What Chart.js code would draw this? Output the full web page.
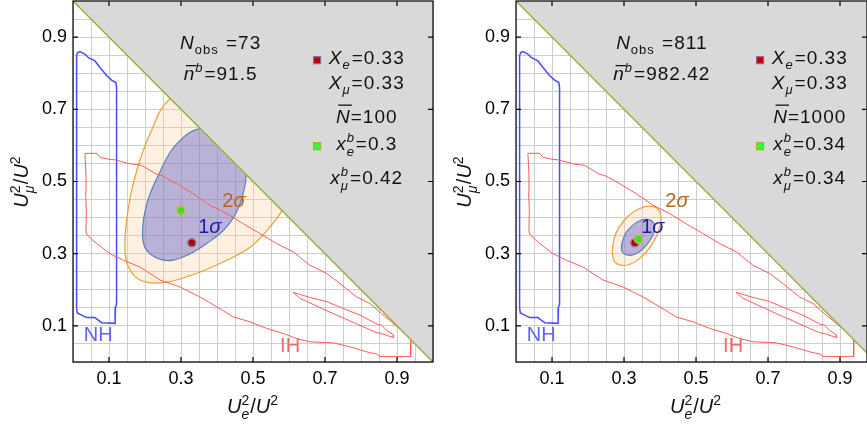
<!DOCTYPE html>
<html>
<head>
<meta charset="utf-8">
<script src="https://cdn.jsdelivr.net/npm/chart.js"></script>
<style>
  html, body { margin: 0; padding: 0; background: #fff; }
  body { width: 867px; height: 426px; position: relative; overflow: hidden; }
  .panel { position: absolute; top: 0; height: 426px; }
  #left { left: 0; width: 440px; }
  #right { left: 440px; width: 427px; }
</style>
</head>
<body>
<div class="panel" id="left"><canvas id="chartLeft" width="440" height="426"></canvas></div>
<div class="panel" id="right"><canvas id="chartRight" width="427" height="426"></canvas></div>
<script>
// values per panel: [left, right]
const tickLabels = ["0.1", "0.3", "0.5", "0.7", "0.9"];
const nObs = [73, 811];
const nBarB = [91.5, 982.42];
const nBarTotal = [100, 1000];
const trueXe = [0.33, 0.33];
const trueXmu = [0.33, 0.33];
const fitXe = [0.3, 0.34];
const fitXmu = [0.42, 0.34];
const xMax = [1, 0.975];

// x_e + x_mu <= 1
const boundary = [[0, 1], [1, 0]];

// normal hierarchy region
const nhContour = [
    [0.01, 0.15], [0.01, 0.848], [0.013, 0.857], [0.019, 0.86], [0.033, 0.853], [0.043, 0.843],
    [0.061, 0.834], [0.075, 0.816], [0.094, 0.793], [0.107, 0.781], [0.119, 0.774], [0.121, 0.76],
    [0.121, 0.16], [0.118, 0.152], [0.117, 0.107], [0.08, 0.109], [0.07, 0.116], [0.061, 0.123],
    [0.038, 0.123], [0.024, 0.13], [0.012, 0.136], [0.01, 0.15]
];

// inverted hierarchy region
const ihOuter = [
    [0.033, 0.578], [0.066, 0.578], [0.075, 0.567], [0.103, 0.561], [0.117, 0.56], [0.158, 0.549],
    [0.19, 0.545], [0.23, 0.521], [0.25, 0.515], [0.288, 0.494], [0.334, 0.466], [0.381, 0.434],
    [0.427, 0.411], [0.473, 0.383], [0.519, 0.356], [0.566, 0.328], [0.612, 0.305], [0.658, 0.268],
    [0.705, 0.245], [0.742, 0.217], [0.788, 0.18], [0.825, 0.162], [0.857, 0.134], [0.899, 0.099],
    [0.927, 0.079], [0.938, 0.065], [0.938, 0.015], [0.853, 0.015], [0.844, 0.022], [0.816, 0.028],
    [0.769, 0.042], [0.723, 0.053], [0.658, 0.056], [0.621, 0.065], [0.584, 0.079], [0.538, 0.093],
    [0.492, 0.111], [0.445, 0.125], [0.399, 0.153], [0.353, 0.18], [0.297, 0.208], [0.242, 0.227],
    [0.186, 0.263], [0.14, 0.282], [0.103, 0.3], [0.066, 0.328], [0.04, 0.351], [0.036, 0.36],
    [0.037, 0.42], [0.035, 0.47], [0.036, 0.52], [0.033, 0.578]
];
const ihInner = [
    [0.611, 0.193], [0.631, 0.187], [0.658, 0.179], [0.705, 0.167], [0.751, 0.148], [0.797, 0.13],
    [0.844, 0.105], [0.857, 0.102], [0.871, 0.088], [0.89, 0.075], [0.89, 0.068], [0.876, 0.072],
    [0.857, 0.079], [0.844, 0.081], [0.816, 0.093], [0.769, 0.114], [0.723, 0.134], [0.677, 0.155],
    [0.631, 0.176], [0.617, 0.188], [0.611, 0.193]
];

// confidence regions
const sigma1 = [
    [[0.44, 0.62], [0.36, 0.648], [0.288, 0.604], [0.237, 0.517], [0.205, 0.438], [0.193, 0.356],
     [0.205, 0.309], [0.251, 0.282], [0.306, 0.291], [0.371, 0.328], [0.427, 0.374], [0.464, 0.438],
     [0.482, 0.525], [0.475, 0.59], [0.44, 0.62]],
    [[0.294, 0.329], [0.306, 0.359], [0.331, 0.384], [0.358, 0.395], [0.381, 0.387], [0.383, 0.359],
     [0.364, 0.326], [0.336, 0.301], [0.311, 0.296], [0.294, 0.307], [0.294, 0.329]]
];
const sigma2 = [
    [[0.33, 0.735], [0.268, 0.728], [0.214, 0.632], [0.177, 0.53], [0.154, 0.429], [0.144, 0.318],
     [0.154, 0.263], [0.186, 0.227], [0.242, 0.219], [0.316, 0.236], [0.408, 0.273], [0.492, 0.318],
     [0.547, 0.374], [0.585, 0.43], [0.6, 0.52], [0.55, 0.64], [0.45, 0.71], [0.33, 0.735]],
    [[0.267, 0.304], [0.275, 0.351], [0.3, 0.392], [0.339, 0.423], [0.378, 0.431], [0.4, 0.414],
     [0.4, 0.376], [0.378, 0.326], [0.344, 0.287], [0.306, 0.268], [0.275, 0.276], [0.267, 0.304]]
];

const FAMILY = '"Liberation Sans", Arial, sans-serif';

function fnt(size, it) {
    return (it ? "italic " : "") + size + "px " + FAMILY;
}

// text with sub/superscripts; y is the middle of the main glyphs
function rich(ctx, parts, x, y, size, color, align, spacing) {
    const small = Math.round(size * 0.7);
    ctx.letterSpacing = (spacing || 0) + "px";
    const items = parts.map((p) => {
        if (typeof p === "string") p = { t: p };
        let w;
        if (p.t !== undefined) {
            ctx.font = fnt(size, p.it);
            w = ctx.measureText(p.t).width;
        } else {
            ctx.font = fnt(small, p.it);
            w = Math.max(p.sub ? ctx.measureText(p.sub).width : 0, p.sup ? ctx.measureText(p.sup).width : 0) + 1;
        }
        return Object.assign({}, p, { w });
    });
    const total = items.reduce((s, p) => s + p.w, 0);
    let cx = align === "left" ? x : x - total / 2;
    const base = y + size * 0.36;
    ctx.fillStyle = color;
    ctx.strokeStyle = color;
    ctx.textAlign = "left";
    ctx.textBaseline = "alphabetic";
    items.forEach((p) => {
        if (p.t !== undefined) {
            ctx.font = fnt(size, p.it);
            ctx.fillText(p.t, cx, base);
            if (p.over) {
                const oy = base - size * p.over;
                ctx.lineWidth = 1.3;
                ctx.beginPath();
                ctx.moveTo(cx + size * 0.12, oy);
                ctx.lineTo(cx + p.w + size * 0.06, oy);
                ctx.stroke();
            }
        } else {
            if (p.sup) {
                ctx.font = fnt(small, p.supIt !== undefined ? p.supIt : p.it);
                ctx.fillText(p.sup, cx, base - size * 0.42);
            }
            if (p.sub) {
                ctx.font = fnt(small, p.subIt !== undefined ? p.subIt : p.it);
                ctx.fillText(p.sub, cx, base + size * 0.28);
            }
        }
        cx += p.w;
    });
    ctx.letterSpacing = "0px";
}

function decor(p) {
    return {
        id: "decor" + p,
        afterDatasetsDraw(chart) {
            const ctx = chart.ctx;
            const a = chart.chartArea;
            const sx = chart.scales.x;
            const sy = chart.scales.y;
            const X = (v) => sx.getPixelForValue(v);
            const Y = (v) => sy.getPixelForValue(v);
            ctx.save();

            ctx.strokeStyle = "#000";
            ctx.lineWidth = 1.2;
            ctx.strokeRect(a.left, a.top, a.right - a.left, a.bottom - a.top);
            tickLabels.forEach((t) => {
                const v = Number(t);
                ctx.beginPath();
                ctx.moveTo(X(v), a.top); ctx.lineTo(X(v), a.top + 5);
                ctx.moveTo(X(v), a.bottom); ctx.lineTo(X(v), a.bottom - 5);
                ctx.moveTo(a.left, Y(v)); ctx.lineTo(a.left + 5, Y(v));
                ctx.moveTo(a.right, Y(v)); ctx.lineTo(a.right - 5, Y(v));
                ctx.stroke();
            });

            const ink = "#111";
            const fs = 19;
            const sp = 1;
            const noteX = p === 0 ? 0.41 : 0.405;
            rich(ctx, [{ t: "N", it: true }, { sub: "obs" }, { t: " =" + nObs[p] }], X(noteX), Y(0.887), fs, ink, "center", sp);
            rich(ctx, [{ t: "n", it: true, over: 0.74 }, { sup: "b", it: true }, { t: "=" + nBarB[p] }], X(noteX), Y(0.801), fs, ink, "center", sp);

            const lx = X(0.816);
            rich(ctx, [{ t: "X", it: true }, { sub: "e", it: true }, { t: "=" + trueXe[p] }], lx, Y(0.845), fs, ink, "center", sp);
            rich(ctx, [{ t: "X", it: true }, { sub: "μ", it: true }, { t: "=" + trueXmu[p] }], lx, Y(0.776), fs, ink, "center", sp);
            rich(ctx, [{ t: "N", it: true, over: 0.92 }, { t: "=" + nBarTotal[p] }], lx, Y(0.682), fs, ink, "center", sp);
            rich(ctx, [{ t: "x", it: true }, { sub: "e", sup: "b", it: true }, { t: "=" + fitXe[p] }], lx, Y(0.605), fs, ink, "center", sp);
            rich(ctx, [{ t: "x", it: true }, { sub: "μ", sup: "b", it: true }, { t: "=" + fitXmu[p] }], lx, Y(0.511), fs, ink, "center", sp);

            // legend squares
            ctx.lineWidth = 1.2;
            ctx.fillStyle = "#c00000";
            ctx.strokeStyle = "#8a6a9a";
            ctx.fillRect(X(0.678) - 3.5, Y(0.836) - 3.5, 7, 7);
            ctx.strokeRect(X(0.678) - 3.5, Y(0.836) - 3.5, 7, 7);
            ctx.fillStyle = "#33ff33";
            ctx.strokeStyle = "#a0b030";
            ctx.fillRect(X(0.678) - 3.5, Y(0.598) - 3.5, 7, 7);
            ctx.strokeRect(X(0.678) - 3.5, Y(0.598) - 3.5, 7, 7);

            rich(ctx, [{ t: "1" }, { t: "σ", it: true }], X(0.38), Y(0.376), 20, "#1c1ca8", "center");
            rich(ctx, [{ t: "2" }, { t: "σ", it: true }], X(0.447), Y(0.448), 20, "#b5661e", "center");
            rich(ctx, ["NH"], X(0.07), Y(0.078), 20, "#6262ff", "center");
            rich(ctx, ["IH"], X(0.603), Y(0.047), 20, "#f06a6a", "center");

            // axis titles
            rich(ctx, [{ t: "U", it: true }, { sub: "e", sup: "2", subIt: true, supIt: false }, { t: "/" }, { t: "U", it: true }, { sup: "2" }],
                X(0.5), a.bottom + 44, 20, ink, "center");
            ctx.save();
            ctx.translate(a.left - 52, (a.top + a.bottom) / 2);
            ctx.rotate(-Math.PI / 2);
            rich(ctx, [{ t: "U", it: true }, { sub: "μ", sup: "2", subIt: true, supIt: false }, { t: "/" }, { t: "U", it: true }, { sup: "2" }],
                0, 0, 20, ink, "center");
            ctx.restore();

            ctx.restore();
        }
    };
}

function pts(arr) {
    return arr.map(([x, y]) => ({ x, y }));
}

function axisTick(v) {
    const s = String(Math.round(v * 100) / 100);
    return tickLabels.includes(s) ? s : "";
}

function buildChart(canvasId, p) {
    const datasets = [
        {
            data: [{ x: fitXe[p], y: fitXmu[p] }],
            pointRadius: 4, pointBackgroundColor: "#2fe52f", pointBorderColor: "#d4b436", pointBorderWidth: 1.5
        },
        {
            data: [{ x: trueXe[p], y: trueXmu[p] }],
            pointRadius: 4, pointBackgroundColor: "#b40000", pointBorderColor: "#8a7aa8", pointBorderWidth: 1.5
        },
        {
            data: pts(boundary), showLine: true, borderColor: "#9aae3c", borderWidth: 1.5, pointRadius: 0
        },
        {
            data: pts([...boundary, [1, 1], boundary[0]]), showLine: true, fill: "shape",
            backgroundColor: "#d9d9d9", borderWidth: 0, pointRadius: 0
        },
        {
            data: pts(ihInner), showLine: true, borderColor: "#ff5a5a", borderWidth: 1, pointRadius: 0
        },
        {
            data: pts(ihOuter), showLine: true, borderColor: "#ff5a5a", borderWidth: 1, pointRadius: 0
        },
        {
            data: pts(nhContour), showLine: true, borderColor: "#4a4aff", borderWidth: 1.5, pointRadius: 0
        },
        {
            data: pts(sigma1[p]), showLine: true, fill: "shape", tension: 0.4,
            borderColor: "#5b82b8", borderWidth: 1.2, backgroundColor: "rgba(95,90,200,0.42)", pointRadius: 0
        },
        {
            data: pts(sigma2[p]), showLine: true, fill: "shape", tension: 0.4,
            borderColor: "#e9a232", borderWidth: 1.2, backgroundColor: "rgba(250,205,150,0.28)", pointRadius: 0
        }
    ];

    const yWidth = p === 0 ? 73 : 76;
    return new Chart(document.getElementById(canvasId), {
        type: "scatter",
        data: { datasets },
        options: {
            responsive: false,
            animation: false,
            events: [],
            layout: { autoPadding: false, padding: { top: 1, right: p === 0 ? 7 : 0, left: 0, bottom: 0 } },
            plugins: {
                legend: { display: false },
                tooltip: { enabled: false }
            },
            scales: {
                x: {
                    type: "linear",
                    min: 0,
                    max: xMax[p],
                    border: { display: false },
                    grid: { color: "#cdcdcd", drawTicks: false },
                    ticks: {
                        stepSize: 0.05, autoSkip: false, maxRotation: 0, padding: 6,
                        color: "#000", font: { family: FAMILY, size: 18 }, callback: axisTick
                    },
                    afterFit(scale) {
                        scale.height = 64;
                        scale.paddingLeft = 0;
                        scale.paddingRight = 0;
                    }
                },
                y: {
                    type: "linear",
                    min: 0,
                    max: 1,
                    border: { display: false },
                    grid: { color: "#cdcdcd", drawTicks: false },
                    ticks: {
                        stepSize: 0.05, autoSkip: false, padding: 6,
                        color: "#000", font: { family: FAMILY, size: 18 }, callback: axisTick
                    },
                    afterFit(scale) {
                        scale.width = yWidth;
                        scale.paddingTop = 0;
                        scale.paddingBottom = 0;
                    }
                }
            }
        },
        plugins: [decor(p)]
    });
}

buildChart("chartLeft", 0);
buildChart("chartRight", 1);
</script>
</body>
</html>
